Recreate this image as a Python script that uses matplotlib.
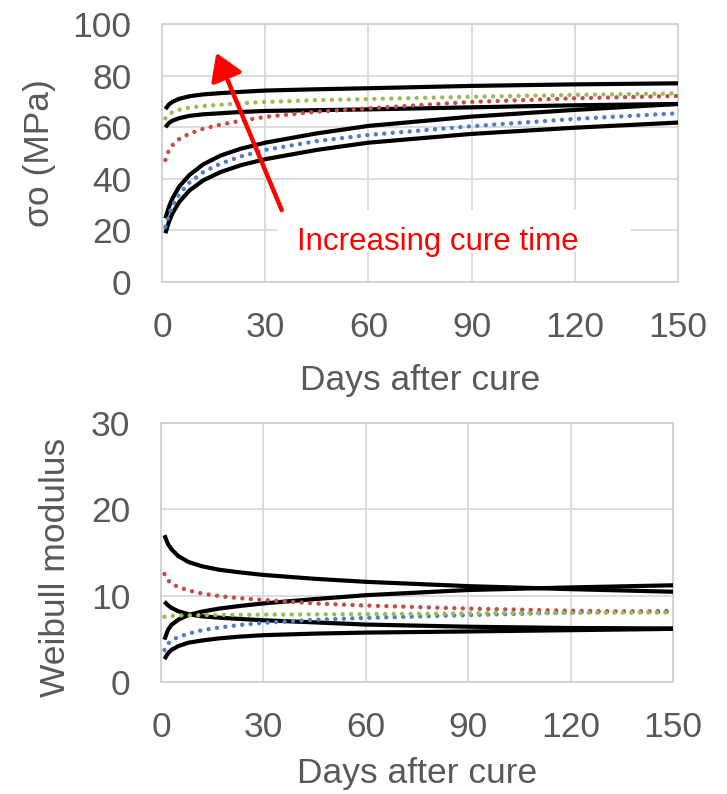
import matplotlib
matplotlib.use("Agg")
import matplotlib.pyplot as plt
from matplotlib.patches import Rectangle

plt.rcParams['font.family'] = ['Liberation Sans', 'DejaVu Sans']

# Days after cure at which the curves are tabulated
days = [1, 2, 3, 5, 8, 12, 17, 23, 30, 45, 60, 90, 120, 150]

# Characteristic strength (MPa)
sig_fit_a = [67.0, 68.8, 69.8, 71.0, 72.0, 72.7, 73.2, 73.7, 74.2, 74.7, 75.1, 76.0, 76.6, 77.0]
sig_green = [63.4, 64.8, 65.8, 66.8, 67.6, 68.2, 68.7, 69.3, 69.8, 70.5, 70.9, 71.8, 72.5, 73.1]
sig_fit_b = [60.0, 61.6, 62.5, 63.5, 64.4, 65.0, 65.4, 65.9, 66.3, 66.6, 66.9, 67.7, 68.5, 69.0]
sig_red = [47.3, 51.0, 53.0, 55.4, 57.5, 59.4, 61.0, 62.5, 64.0, 66.0, 67.3, 69.8, 71.2, 72.1]
sig_fit_c = [24.7, 29.0, 32.3, 37.0, 41.5, 45.6, 49.0, 51.7, 54.0, 57.6, 60.5, 64.1, 66.7, 69.0]
sig_blue = [21.4, 26.0, 29.5, 34.0, 38.6, 42.6, 45.9, 48.7, 51.2, 54.6, 57.0, 60.4, 63.2, 65.4]
sig_fit_d = [18.9, 23.2, 26.5, 31.0, 35.5, 39.4, 42.6, 45.3, 47.6, 51.2, 54.0, 57.4, 59.8, 61.8]

# Weibull modulus
m_fit_a = [17.0, 16.0, 15.4, 14.6, 13.9, 13.4, 13.0, 12.7, 12.4, 11.95, 11.6, 11.1, 10.75, 10.45]
m_red = [12.5, 11.8, 11.4, 11.0, 10.6, 10.25, 9.95, 9.7, 9.5, 9.1, 8.85, 8.5, 8.25, 8.1]
m_fit_b = [9.3, 8.9, 8.6, 8.2, 7.85, 7.6, 7.45, 7.3, 7.15, 6.9, 6.65, 6.4, 6.25, 6.2]
m_fit_c = [4.9, 6.0, 6.6, 7.2, 7.75, 8.15, 8.5, 8.8, 9.1, 9.6, 10.05, 10.65, 10.95, 11.2]
m_green = [7.55, 7.6, 7.65, 7.7, 7.72, 7.74, 7.76, 7.78, 7.8, 7.83, 7.86, 7.94, 8.0, 8.05]
m_blue = [3.7, 4.4, 4.8, 5.2, 5.6, 6.0, 6.3, 6.6, 6.85, 7.2, 7.42, 7.75, 8.05, 8.25]
m_fit_d = [2.65, 3.3, 3.7, 4.15, 4.55, 4.8, 5.05, 5.25, 5.42, 5.6, 5.72, 5.85, 6.0, 6.15]

x_ticks = [0, 30, 60, 90, 120, 150]
sig_ticks = [0, 20, 40, 60, 80, 100]
m_ticks = [0, 10, 20, 30]

BLUE, RED, GREEN = '#4f81bd', '#c0504d', '#9bbb59'
TXT = '#595959'
GRID = '#d9d9d9'
FS = 25.5

fig = plt.figure(figsize=(7.27, 7.94), dpi=100)
ax1 = fig.add_axes([0.2228, 0.6448, 0.7098, 0.3250])
ax2 = fig.add_axes([0.2215, 0.1411, 0.7043, 0.3262])

solid = dict(color='black', lw=3.0, solid_capstyle='butt',
             solid_joinstyle='round', zorder=3)
dotted = dict(lw=3.2, linestyle=(0, (0.01, 1.9)), dash_capstyle='round', zorder=3)


def style(ax, yticks, xlabel_pad):
    ax.set_xlim(0, 150)
    ax.set_ylim(yticks[0], yticks[-1])
    ax.set_xticks(x_ticks)
    ax.set_yticks(yticks)
    ax.grid(True, color=GRID, lw=1.3, zorder=0)
    ax.set_axisbelow(True)
    for s in ax.spines.values():
        s.set_color('#d0d0d0')
        s.set_linewidth(1.3)
    ax.tick_params(length=0, labelsize=FS, colors=TXT, pad=22)
    ax.tick_params(axis='x', pad=21)
    ax.set_xlabel('Days after cure', fontsize=FS, color=TXT, labelpad=xlabel_pad)


# Strength panel
for ys in (sig_fit_a, sig_fit_b, sig_fit_c, sig_fit_d):
    ax1.plot(days, ys, **solid)
ax1.plot(days, sig_blue, color=BLUE, **dotted)
ax1.plot(days, sig_red, color=RED, **dotted)
ax1.plot(days, sig_green, color=GREEN, **dotted)
style(ax1, sig_ticks, 14)
ax1.set_ylabel('σo (MPa)', fontsize=FS, color=TXT)
ax1.yaxis.set_label_coords(-0.205, 0.5)

ax1.annotate('', xy=(15.8, 88.8), xytext=(34.8, 27.9),
             arrowprops=dict(arrowstyle='-|>,head_length=0.8,head_width=0.5',
                             mutation_scale=20, color='red', lw=3.2,
                             shrinkA=0, shrinkB=0), zorder=5)
box = Rectangle((33.4, 11.6), 102.9, 16.3, facecolor='white',
                edgecolor='none', zorder=1)
ax1.add_patch(box)
label = ax1.text(39.2, 12.6, 'Increasing cure time', color='red',
                 fontsize=22.5, ha='left', va='baseline', zorder=4)
label.set_clip_path(box)

# Weibull modulus panel
for ys in (m_fit_a, m_fit_b, m_fit_c, m_fit_d):
    ax2.plot(days, ys, **solid)
ax2.plot(days, m_blue, color=BLUE, **dotted)
ax2.plot(days, m_red, color=RED, **dotted)
ax2.plot(days, m_green, color=GREEN, **dotted)
style(ax2, m_ticks, 9)
ax2.set_ylabel('Weibull modulus', fontsize=FS, color=TXT)
ax2.yaxis.set_label_coords(-0.174, 0.442)

fig.savefig('out.png', dpi=100, facecolor='white')
